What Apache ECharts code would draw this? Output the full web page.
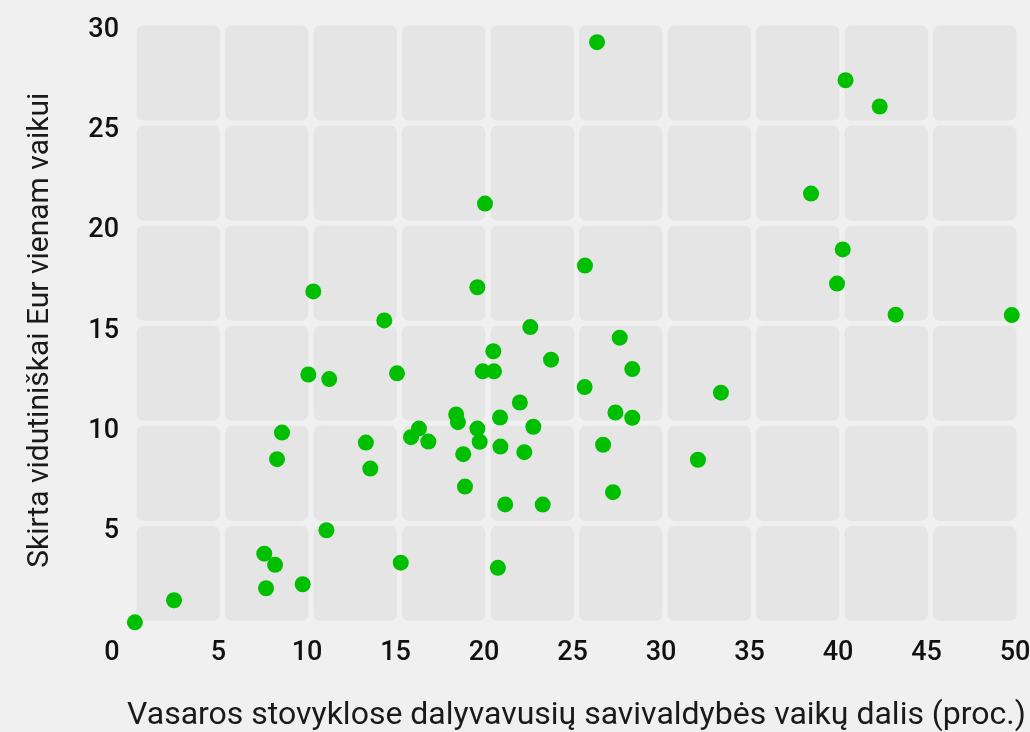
<!DOCTYPE html>
<html>
<head>
<meta charset="utf-8">
<script src="https://cdn.jsdelivr.net/npm/echarts@6/dist/echarts.min.js"></script>
<style>
html,body{margin:0;padding:0;background:#f0f0f0;}
#chart{width:1030px;height:732px;}
</style>
</head>
<body>
<div id="chart"></div>
<script>
// Data: share of municipality children in summer camps (%) vs EUR per child
const xValues = [0.05,2.26,7.36,7.97,7.46,9.53,10.87,15.07,20.56,8.08,8.36,9.85,10.13,11.03,13.1,13.35,14.14,14.86,15.65,16.1,16.63,18.2,18.3,18.6,18.7,19.4,19.53,19.4,19.7,19.83,20.34,20.3,20.68,20.7,20.97,21.8,22.05,22.39,22.56,23.09,23.56,25.48,25.46,26.16,26.5,27.06,27.2,27.44,28.15,28.15,31.86,33.16,38.25,40.2,40.04,39.72,42.13,43.03,49.59];
const yValues = [0.06,1.16,3.49,2.93,1.76,1.96,4.66,3.04,2.78,8.21,9.54,12.44,16.59,12.21,9.04,7.74,15.14,12.5,9.31,9.74,9.09,10.44,10.06,8.46,6.84,9.74,9.08,16.8,12.6,20.98,12.6,13.6,10.29,8.84,5.95,11.04,8.56,14.81,9.83,5.94,13.18,17.88,11.81,29.04,8.93,6.56,10.54,14.28,12.71,10.28,8.18,11.53,21.48,27.14,18.69,16.98,25.83,15.43,15.41];
const xTicks = [0,5,10,15,20,25,30,35,40,45,50];
const yTicks = [0,5,10,15,20,25,30];
const xTitle = 'Vasaros stovyklose dalyvavusių savivaldybės vaikų dalis (proc.)';
const yTitle = 'Skirta vidutiniškai Eur vienam vaikui';

const points = xValues.map((x, i) => [x, yValues[i]]);
const cells = [];
for (let i = 0; i < xTicks.length - 1; i++) {
  for (let j = 0; j < yTicks.length - 1; j++) {
    cells.push([xTicks[i], xTicks[i + 1], yTicks[j], yTicks[j + 1]]);
  }
}

const FONT = 'Roboto, "Noto Sans", sans-serif';
const chart = echarts.init(document.getElementById('chart'));
chart.setOption({
  backgroundColor: '#f0f0f0',
  animation: false,
  grid: { left: 134, right: 11, top: 23, bottom: 108.5, containLabel: false, outerBoundsMode: 'none' },
  xAxis: {
    type: 'value', min: 0, max: 50, interval: 5,
    axisLine: { show: false }, axisTick: { show: false }, splitLine: { show: false },
    axisLabel: {
      margin: 16, showMinLabel: true, showMaxLabel: true,
      formatter: v => v === 0 ? '{o|0}' : '{n|' + v + '}',
      rich: {
        o: { fontSize: 27, fontFamily: FONT, fontWeight: 500, color: '#111', padding: [0, 44, 0, 0] },
        n: { fontSize: 27, fontFamily: FONT, fontWeight: 500, color: '#111', padding: [0, 8, 0, 0] }
      }
    },
    name: xTitle, nameLocation: 'middle', nameGap: 76,
    nameTextStyle: { fontSize: 32, fontFamily: FONT, color: '#1a1a1a' }
  },
  yAxis: {
    type: 'value', min: 0, max: 30, interval: 5,
    axisLine: { show: false }, axisTick: { show: false }, splitLine: { show: false },
    axisLabel: {
      margin: 15, showMaxLabel: true,
      formatter: v => v === 0 ? '' : '{n|' + v + '}',
      rich: {
        n: { fontSize: 27, fontFamily: FONT, fontWeight: 500, color: '#111', padding: [15, 0, 0, 0] }
      }
    },
    name: yTitle, nameLocation: 'middle', nameGap: 79,
    nameTextStyle: { fontSize: 30, fontFamily: FONT, color: '#1a1a1a', padding: [0, 14, 0, 0] }
  },
  series: [
    {
      type: 'custom', silent: true, z: 1,
      data: cells,
      encode: { x: [0, 1], y: [2, 3] },
      renderItem: (params, api) => {
        const p0 = api.coord([api.value(0), api.value(3)]);
        const p1 = api.coord([api.value(1), api.value(2)]);
        const g = 2.5;
        return {
          type: 'rect',
          shape: { x: p0[0] + g, y: p0[1] + g, width: p1[0] - p0[0] - 2 * g, height: p1[1] - p0[1] - 2 * g, r: 7 },
          style: { fill: '#e5e5e5' }
        };
      }
    },
    {
      type: 'scatter', z: 3,
      data: points,
      symbolSize: 16,
      itemStyle: { color: '#00bf00', opacity: 1 }
    }
  ]
});
</script>
</body>
</html>
